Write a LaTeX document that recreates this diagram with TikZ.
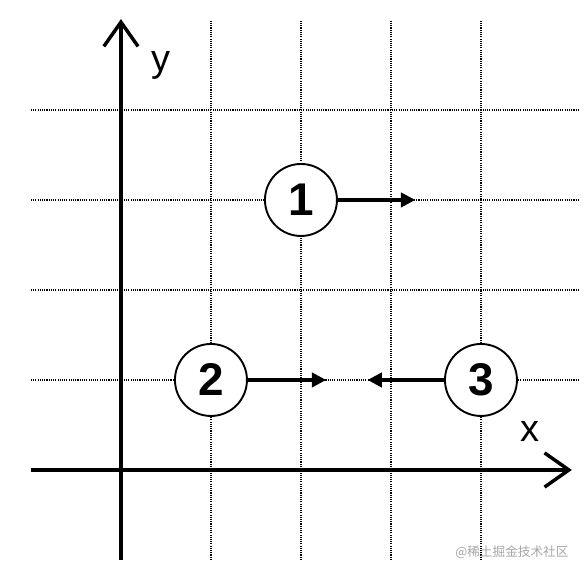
\documentclass[tikz,border=0pt]{standalone}
\usepackage{fontspec}
\setmainfont{Liberation Sans}
\newfontfamily\cjkfont{Noto Sans CJK SC}
\usepackage{tikz}
\usetikzlibrary{positioning,arrows.meta}

\begin{document}
\begin{tikzpicture}[
 gridline/.style={draw=black, line width=0.35pt, dash pattern=on 0.35pt off 0.35pt},
 axis/.style={-{Straight Barb[length=2.7mm, width=3.8mm, line width=1.1pt]}, draw=black, line width=1.1pt},
 ball/.style={circle, draw=black, line width=0.6pt, fill=white, minimum size=8mm, inner sep=0pt,
 font=\fontsize{14.5}{16}\selectfont\bfseries},
 vel/.style={-{Triangle[length=1.6mm, width=1.6mm]}, draw=black, line width=1pt},
]
 \useasboundingbox (-1.344,-1.144) rectangle (5.156,5.222);

 % grid
 \foreach \i in {1,...,4} {
 \draw[gridline] (\i,-1) -- (\i,5);
 \draw[gridline] (-1,\i) -- (5.1,\i);
 }

 % axes
 \coordinate (XS) at (-1,0);
 \coordinate (XE) at (5.01,0);
 \coordinate (YS) at (0,-1);
 \coordinate (YE) at (0,5.01);
 \draw[axis] (XS) -- (XE);
 \draw[axis] (YS) -- (YE);
 \node[font=\fontsize{12}{14}\selectfont] (xlab) at (4.55,0.43) {x};
 \node[font=\fontsize{12}{14}\selectfont] (ylab) at (0.45,4.5) {y};

 % particles
 \node[ball] (B1) at (2,3) {1};
 \node[ball] (B2) at (1,1) {2};
 \node[ball] (B3) at (4,1) {3};
 \coordinate (V1) at (3.27,3);
 \coordinate (V2) at (2.28,1);
 \coordinate (V3) at (2.74,1);
 \draw[vel] (B1.east) -- (V1);
 \draw[vel] (B2.east) -- (V2);
 \draw[vel] (B3.west) -- (V3);

 \node[anchor=east, inner sep=0pt, text=black!35, font=\cjkfont\fontsize{4}{5}\selectfont] (wm) at (4.98,-0.91) {@稀土掘金技术社区};
\end{tikzpicture}
\end{document}
